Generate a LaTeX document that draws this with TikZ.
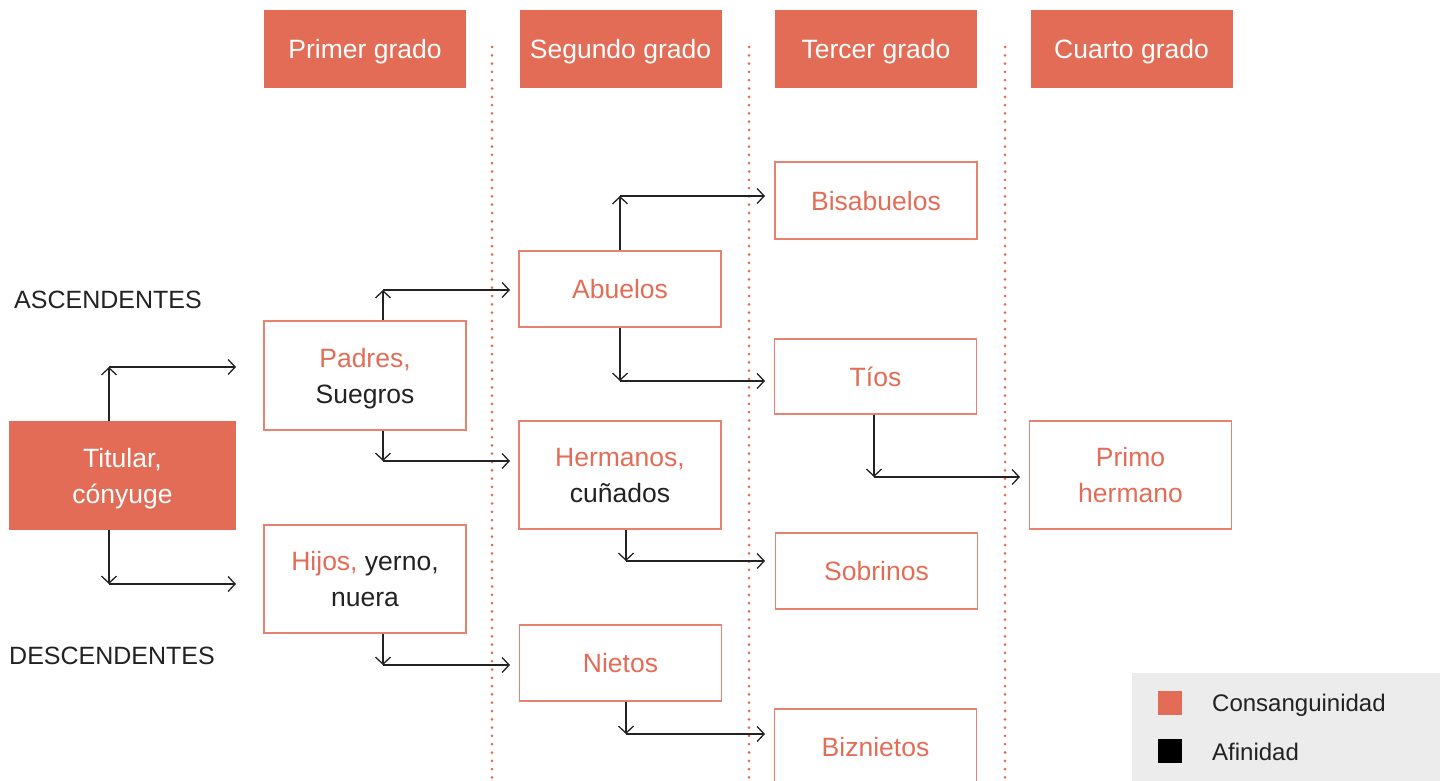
\documentclass[tikz,border=0pt]{standalone}
\usepackage{fontspec}
\setmainfont{Liberation Sans}
\usetikzlibrary{arrows.meta}
\definecolor{rojo}{RGB}{226,108,86}
\definecolor{gris}{RGB}{236,236,236}
\definecolor{tinta}{RGB}{34,34,34}
\tikzset{
    txt/.style={font=\fontsize{26.5}{36}\selectfont,text height=19pt,text depth=0pt},
    dos/.style={text height=55pt,text depth=0pt},
    grado/.style={txt,fill=rojo,text=white,minimum width=202,minimum height=78,inner sep=0},
    pariente/.style={txt,draw=rojo!85!white,line width=1.3,text=rojo,minimum width=202,align=center,inner sep=0},
    rotulo/.style={font=\fontsize{25}{30}\selectfont,text=tinta,anchor=base west,inner sep=0},
    conn/.style={draw=tinta,line width=1.3,-{Straight Barb[length=7,width=15]}},
    sep/.style={draw=rojo,line width=3,line cap=round,dash pattern=on 0pt off 8.3pt},
}

\begin{document}
\begin{tikzpicture}[x=1pt,y=-1pt]
    	\useasboundingbox (0,0) rectangle (1448,781);
    	\clip (0,0) rectangle (1448,781);

    	\foreach \x in {492,749,1005}
    		\draw[sep] (\x,47) -- (\x,781);

    	\node[grado] (g1) at (365,49) {Primer grado};
    	\node[grado] (g2) at (620.5,49) {Segundo grado};
    	\node[grado] (g3) at (876,49) {Tercer grado};
    	\node[grado] (g4) at (1131.5,49) {Cuarto grado};

    	\node[txt,dos,fill=rojo,text=white,minimum width=227,minimum height=109,align=center,inner sep=0] (tit) at (122.5,475.5) {Titular,\\c\'onyuge};
    	\node[pariente,dos,minimum height=109] (pad) at (365,375.5) {Padres,\\\textcolor{tinta}{Suegros}};
    	\node[pariente,dos,minimum height=108] (hij) at (365,579) {Hijos, \textcolor{tinta}{yerno,}\\\textcolor{tinta}{nuera}};
    	\node[pariente,minimum height=76] (abu) at (620,289) {Abuelos};
    	\node[pariente,dos,minimum height=108] (her) at (620,475) {Hermanos,\\\textcolor{tinta}{cu\~nados}};
    	\node[pariente,minimum height=76] (nie) at (620.5,663) {Nietos};
    	\node[pariente,minimum height=77] (bis) at (876,200.5) {Bisabuelos};
    	\node[pariente,minimum height=75] (tio) at (875.5,376.5) {T\'{\i}os};
    	\node[pariente,minimum height=76] (sob) at (876.5,571) {Sobrinos};
    	\node[pariente,minimum height=76] (biz) at (875.5,747) {Biznietos};
    	\node[pariente,dos,minimum height=108] (pri) at (1130.5,475) {Primo\\hermano};

    	\node[rotulo] (asc) at (14,308) {ASCENDENTES};
    	\node[rotulo] (desc) at (9,664) {DESCENDENTES};

    	% esquinas y puntas libres
    	\coordinate (k1) at (109,367);  \coordinate (e1) at (236,367);
    	\coordinate (k2) at (109,584);  \coordinate (e2) at (236,584);
    	\coordinate (k3) at (383,290);  \coordinate (e3) at (510,290);
    	\coordinate (k4) at (383,461);  \coordinate (e4) at (510,461);
    	\coordinate (k5) at (383,665);  \coordinate (e5) at (510,665);
    	\coordinate (k6) at (620,196);  \coordinate (e6) at (765,196);
    	\coordinate (k7) at (620,381);  \coordinate (e7) at (765,381);
    	\coordinate (k8) at (626,561);  \coordinate (e8) at (765,561);
    	\coordinate (k9) at (626,734);  \coordinate (e9) at (765,734);
    	\coordinate (k10) at (874,477); \coordinate (e10) at (1020,477);

    	\foreach \b/\c/\e in {tit.north/k1/e1,tit.south/k2/e2,pad.north/k3/e3,pad.south/k4/e4,hij.south/k5/e5,abu.north/k6/e6,abu.south/k7/e7,her.south/k8/e8,nie.south/k9/e9,tio.south/k10/e10}{
    		\draw[conn] (\b -| \c) -- (\c);
    		\draw[conn] (\c) -- (\e);
    	}

    	\fill[gris] (1132,673) rectangle (1440,781);
    	\node[fill=rojo,minimum size=24,inner sep=0] (lc) at (1170,703) {};
    	\node[fill=black,minimum size=24,inner sep=0] (la) at (1170,751) {};
    	\node[rotulo,font=\fontsize{24}{30}\selectfont] (tc) at (1212,711) {Consanguinidad};
    	\node[rotulo,font=\fontsize{24}{30}\selectfont] (ta) at (1212,760.5) {Afinidad};

    	\end{tikzpicture}
\end{document}
